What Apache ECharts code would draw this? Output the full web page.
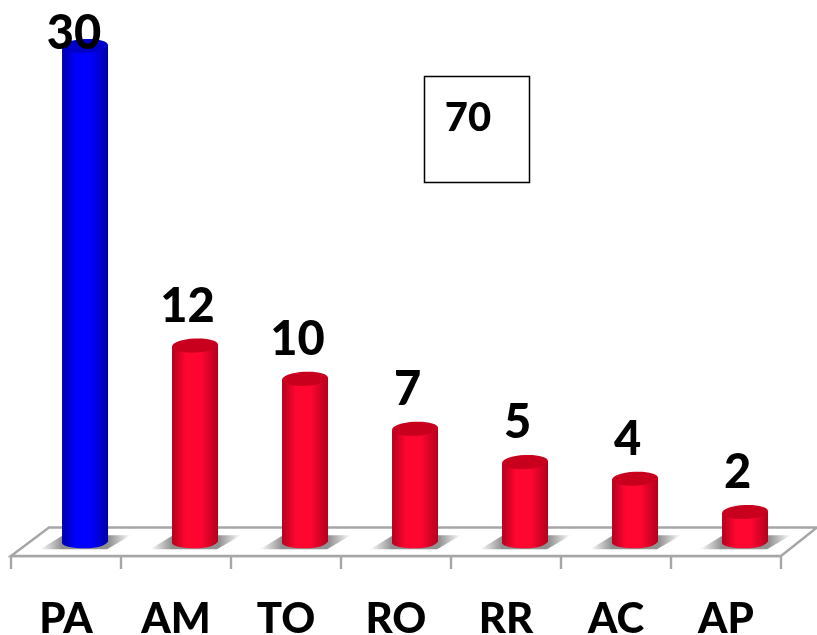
<!DOCTYPE html>
<html><head><meta charset="utf-8">
<style>html,body{margin:0;padding:0;background:#fff}#c{width:817px;height:635px}</style>
<script src="https://cdn.jsdelivr.net/npm/echarts@6/dist/echarts.min.js"></script>
</head><body><div id="c"></div>
<script>
const categories = ['PA','AM','TO','RO','RR','AC','AP'];
const values = [30,12,10,7,5,4,2];
const boxValue = '70';
const FONT = 'Lato, "Open Sans", sans-serif';
const yMin = -0.643;
const palettes = {
  blue: {edge:'#0000a8', mid:'#0000ff', top:'#0000c8'},
  red:  {edge:'#b4001e', mid:'#ff0630', top:'#c8001e'}
};
const chart = echarts.init(document.getElementById('c'), null, {renderer:'canvas'});

function grad(stops){
  return new echarts.graphic.LinearGradient(0,0,1,0,stops.map(s=>({offset:s[0],color:s[1]})));
}
function renderBar(params, api){
  const idx = params.dataIndex;
  const v = api.value(1);
  const band = api.size([1,0])[0];
  const base = api.coord([idx,0]);
  const top = api.coord([idx,v]);
  const cx = base[0] + band*0.173;
  const hw = 23, ry = 7, rot = 0.05;
  const p = idx===0 ? palettes.blue : palettes.red;
  const body = grad([[0,p.edge],[0.3,p.mid],[0.62,p.mid],[1,p.edge]]);
  const shadow = new echarts.graphic.LinearGradient(0,0,1,0,[
    {offset:0,color:'rgba(140,140,140,0)'},{offset:0.24,color:'rgba(140,140,140,0.95)'},
    {offset:0.76,color:'rgba(140,140,140,0.95)'},{offset:1,color:'rgba(140,140,140,0)'}]);
  const by = base[1]-3, ty = top[1];
  const bodyPath = 'M'+(cx-hw)+' '+(ty+1)+' L'+(cx+hw)+' '+(ty-1)+' L'+(cx+hw)+' '+(by-1)+
    ' Q'+(cx+hw-4)+' '+(by+6)+' '+cx+' '+(by+6)+' Q'+(cx-hw+3)+' '+(by+6)+' '+(cx-hw)+' '+(by+1)+' Z';
  const lblDx = idx===0 ? -11 : -7.5;
  const lblDy = idx===0 ? -12 : -39;
  return {type:'group',children:[
    {type:'polygon',shape:{points:[[cx-45,by+7],[cx-22,by-7],[cx+46,by-7],[cx+22,by+7]]},style:{fill:shadow},silent:true},
    {type:'path',shape:{pathData:bodyPath,layout:'cover',x:cx-hw,y:ty-1,width:hw*2,height:by+6-(ty-1)},style:{fill:body}},
    {type:'ellipse',shape:{cx:0,cy:0,rx:hw,ry:ry},x:cx,y:ty,rotation:rot,style:{fill:p.top}},
    {type:'text',z2:10,style:{text:String(v),x:cx+lblDx,y:ty+lblDy,align:'center',verticalAlign:'middle',
      font:'900 47px '+FONT,fill:'#000'}}
  ]};
}
function renderFloor(params, api){
  const size = api.size([1,0])[0];
  const a = api.coord([0,yMin]);
  const x0 = a[0]-size/2, y0 = a[1];
  const x1 = x0+size*categories.length;
  return {type:'polygon',shape:{points:[[x0,y0],[x0+38,y0-28.5],[x1+36,y0-28.5],[x1,y0]]},
    style:{fill:'#fff',stroke:'#a6a6a6',lineWidth:2.4},silent:true};
}
chart.setOption({
  animation:false,
  backgroundColor:'#fff',
  grid:{left:11,top:46,width:770,height:510,containLabel:false,outerBoundsMode:'none'},
  xAxis:{type:'category',data:categories,boundaryGap:true,
    axisLine:{show:true,onZero:false,lineStyle:{color:'#a6a6a6',width:2.4}},
    axisTick:{show:true,alignWithLabel:false,length:13,lineStyle:{color:'#a6a6a6',width:2.4}},
    axisLabel:{color:'#000',fontFamily:'Lato, "Open Sans", sans-serif',fontWeight:900,fontSize:42,margin:42}},
  yAxis:{type:'value',min:yMin,max:30,show:false,splitLine:{show:false}},
  graphic:[
    {type:'rect',shape:{x:424.5,y:76.5,width:105,height:106},style:{fill:'#fff',stroke:'#000',lineWidth:1.5},z:50},
    {type:'text',style:{text:boxValue,x:468,y:118,align:'center',verticalAlign:'middle',font:'900 40px '+FONT,fill:'#000'},z:51}
  ],
  series:[
    {type:'custom',coordinateSystem:'cartesian2d',renderItem:renderFloor,data:[[0,0]],z:1,silent:true,encode:{x:0,y:1}},
    {type:'custom',coordinateSystem:'cartesian2d',renderItem:renderBar,z:3,clip:false,
      data:values.map((v,i)=>[i,v]),encode:{x:0,y:1}}
  ]
});
</script></body></html>
